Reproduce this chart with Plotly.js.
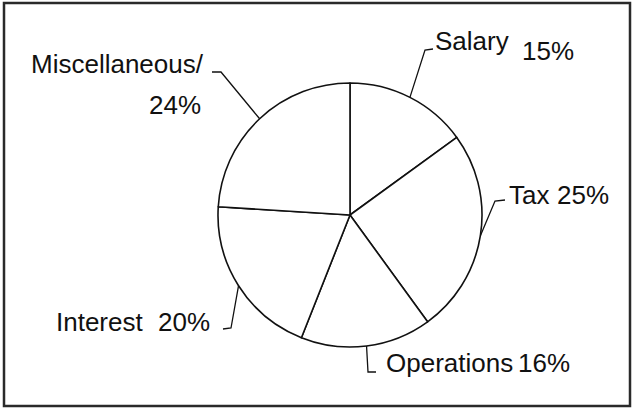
<!DOCTYPE html>
<html>
<head>
<meta charset="utf-8">
<script src="https://cdn.plot.ly/plotly-3.0.1.min.js"></script>
<style>
  html, body { margin: 0; padding: 0; background: #fff; }
  #chart { width: 635px; height: 409px; }
</style>
</head>
<body>
<div id="chart"></div>
<script>
// slice data, clockwise from 12 o'clock
let categories = ['Salary', 'Tax', 'Operations', 'Interest', 'Miscellaneous'];
let shares = [15, 25, 16, 20, 24];

const W = 635, H = 409;
// pie placement in pixels
const cx = 350, cy = 215, R = 132;

// where each label sits (pixels): label left/mid-y, value left/mid-y, leader elbow and end
const labelPos = [
    { lx: 433, ly: 41, vx: 520, vy: 51, elbow: [425, 50], end: [433, 49], suffix: '' },
    { lx: 507, ly: 195, vx: 555, vy: 195, elbow: [495, 201], end: [505, 200], suffix: '' },
    { lx: 384, ly: 363, vx: 516, vy: 363, elbow: [368, 372], end: [376, 372], suffix: '' },
    { lx: 54, ly: 322, vx: 156, vy: 322, elbow: [231, 328], end: [223, 329], suffix: '' },
    { lx: 29, ly: 64, vx: 147, vy: 105, elbow: [221, 72], end: [212, 72], suffix: '/' }
];

function px(x) { return x / W; }
function py(y) { return 1 - y / H; }

let total = shares.reduce((a, b) => a + b, 0);
let annotations = [];
let shapes = [];
let cum = 0;

for (let i = 0; i < categories.length; i++) {
    // leader starts on the rim at the slice's mid angle
    let mid = (cum + shares[i] / 2) / total * 2 * Math.PI;
    cum += shares[i];
    let sx = cx + R * Math.sin(mid);
    let sy = cy - R * Math.cos(mid);
    let p = labelPos[i];

    shapes.push({
        type: 'path',
        xref: 'paper', yref: 'paper',
        path: 'M' + px(sx) + ',' + py(sy) + ' L' + px(p.elbow[0]) + ',' + py(p.elbow[1]) +
              ' L' + px(p.end[0]) + ',' + py(p.end[1]),
        line: { color: '#111', width: 1.3 }
    });

    annotations.push({
        xref: 'paper', yref: 'paper', x: px(p.lx), y: py(p.ly),
        xanchor: 'left', yanchor: 'middle', showarrow: false,
        text: categories[i] + p.suffix,
        font: { family: 'Liberation Sans, Arial, sans-serif', size: 26, color: '#111' }
    });
    annotations.push({
        xref: 'paper', yref: 'paper', x: px(p.vx), y: py(p.vy),
        xanchor: 'left', yanchor: 'middle', showarrow: false,
        text: shares[i] + '%',
        font: { family: 'Liberation Sans, Arial, sans-serif', size: 26, color: '#111' }
    });
}

// outer frame
shapes.push({
    type: 'rect', xref: 'paper', yref: 'paper',
    x0: px(4), x1: px(630), y0: py(406), y1: py(3),
    line: { color: '#2a2a2a', width: 2.5 }
});

let trace = {
    type: 'pie',
    labels: categories,
    values: shares,
    sort: false,
    direction: 'clockwise',
    rotation: 0,
    textinfo: 'none',
    hoverinfo: 'label+percent',
    marker: {
        colors: categories.map(() => '#ffffff'),
        line: { color: '#111', width: 1.6 }
    },
    domain: { x: [px(cx - R), px(cx + R)], y: [py(cy + R), py(cy - R)] },
    automargin: false
};

let layout = {
    width: W,
    height: H,
    margin: { l: 0, r: 0, t: 0, b: 0 },
    showlegend: false,
    paper_bgcolor: '#fff',
    annotations: annotations,
    shapes: shapes
};

Plotly.newPlot('chart', [trace], layout, { displayModeBar: false, staticPlot: true });
</script>
</body>
</html>
